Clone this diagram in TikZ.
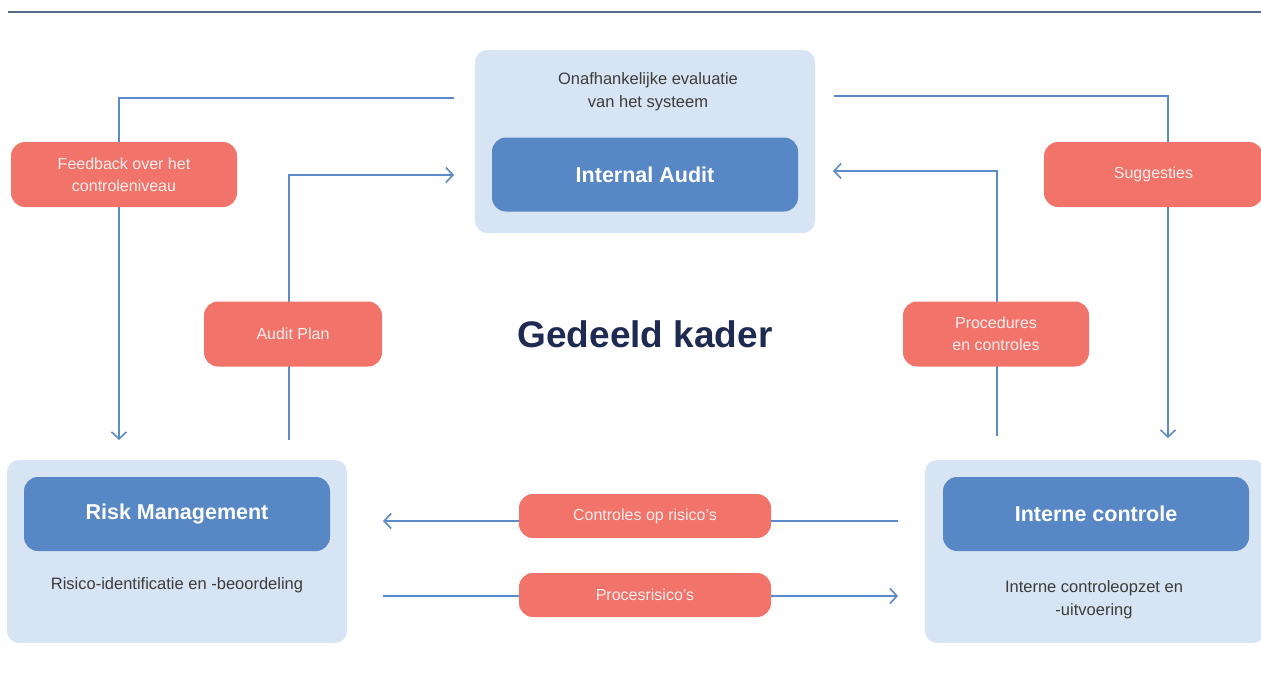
\documentclass[tikz,border=0pt]{standalone}
\usepackage{fontspec}
\setmainfont{Liberation Sans}
\usetikzlibrary{arrows.meta, backgrounds}
\definecolor{paleblue}{HTML}{D6E4F4}
\definecolor{boxblue}{HTML}{5787C5}
\definecolor{salmon}{HTML}{F2736A}
\definecolor{linkblue}{HTML}{5B8BCB}
\definecolor{navy}{HTML}{1E2A52}
\definecolor{bodygray}{HTML}{3C3C3C}
\definecolor{rulegray}{HTML}{5A6C8E}
\tikzset{%
	panel/.style={
		fill=paleblue,
		rounded corners=12pt,
		minimum width=340pt,
		minimum height=183pt,
		inner sep=0pt
	},
	unit/.style={
		fill=boxblue,
		rounded corners=14pt,
		minimum width=306pt,
		minimum height=74pt,
		inner sep=0pt,
		text=white,
		font=\fontsize{21.5}{25}\selectfont\bfseries
	},
	pill/.style={
		fill=salmon,
		rounded corners=14pt,
		inner sep=0pt,
		minimum height=65pt,
		text=white!88!salmon,
		align=center,
		font=\fontsize{16}{22}\selectfont
	},
	caption/.style={
		text=bodygray,
		align=center,
		font=\fontsize{16.5}{23}\selectfont
	},
	flow/.style={
		draw=linkblue,
		line width=1.6pt,
		-{Straight Barb[length=7pt,width=15pt]}
	},
}

\begin{document}
\begin{tikzpicture}[x=1pt, y=-1pt]
			\useasboundingbox (0,0) rectangle (1261,693);
			
			% Rule at the top
			\draw[rulegray, line width=1.3pt] (8,12) -- (1261,12);
			
			% Internal audit
			\node[panel] (audit) at (645,141.5) {};
			\node[caption] (auditcap) at (648,92) {Onafhankelijke evaluatie\\van het systeem};
			\node[unit] (auditunit) at (645,174.5) {Internal Audit};
			
			% Risk management
			\node[panel] (risk) at (177,551.5) {};
			\node[unit] (riskunit) at (177,514) {Risk Management};
			\node[caption] (riskcap) at (177,585) {Risico-identificatie en -beoordeling};
			
			% Interne controle
			\node[panel] (ctrl) at (1095,551.5) {};
			\node[unit] (ctrlunit) at (1096,514) {Interne controle};
			\node[caption] (ctrlcap) at (1094,600) {Interne controleopzet en\\-uitvoering};
			
			% Centre title
			\node[text=navy, font=\fontsize{37}{40}\selectfont\bfseries] (title) at (645,334) {Gedeeld kader};
			
			% Labels on the connectors
			\node[pill, minimum width=226pt] (feedback) at (124,174.5) {Feedback over het\\controleniveau};
			\node[pill, minimum width=178pt] (plan) at (293,334) {Audit Plan};
			\node[pill, minimum width=219pt] (sugg) at (1153.5,174.5) {Suggesties};
			\node[pill, minimum width=186pt] (proc) at (996,334) {Procedures\\en controles};
			\node[pill, minimum width=252pt, minimum height=44pt] (ctrlrisk) at (645,516) {Controles op risico's};
			\node[pill, minimum width=252pt, minimum height=44pt] (procrisk) at (645,595) {Procesrisico's};
			
			% Free ends of the connectors
			\coordinate (fbA) at (454,98);
			\coordinate (fbB) at (119,440);
			\coordinate (apA) at (289,440);
			\coordinate (apB) at (454,175);
			\coordinate (sgA) at (834,96);
			\coordinate (sgB) at (1168,438);
			\coordinate (pcA) at (997,436);
			\coordinate (pcB) at (833,171);
			\coordinate (crA) at (898,521);
			\coordinate (crB) at (383,521);
			\coordinate (prA) at (383,596);
			\coordinate (prB) at (898,596);
			
			% Connectors behind the labels
			\begin{scope}[on background layer]
				\draw[flow] (fbA) -| (fbB);
				\draw[flow] (apA) |- (apB);
				\draw[flow] (sgA) -| (sgB);
				\draw[flow] (pcA) |- (pcB);
				\draw[flow] (crA) -- (crB);
				\draw[flow] (prA) -- (prB);
			\end{scope}
			
		\end{tikzpicture}
\end{document}
